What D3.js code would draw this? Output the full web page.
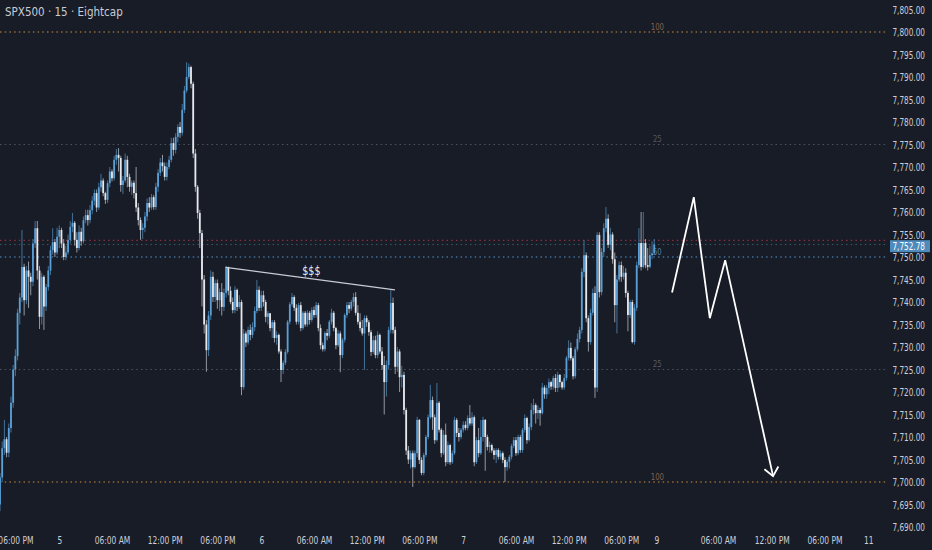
<!DOCTYPE html>
<html>
<head>
<meta charset="utf-8">
<script src="https://cdn.jsdelivr.net/npm/d3@7"></script>
<style>
    html, body { margin: 0; padding: 0; background: #181c27; overflow: hidden; }
    svg { display: block; }
    text { font-family: "DejaVu Sans Condensed", Roboto, sans-serif; }
</style>
</head>
<body>
<div class="canvas"></div>
<script>
// 15 min bars, open of each bar = close of the bar before
const firstOpen = 7695;

const closes = [
    7701, 7707.5, 7709.5, 7706.5, 7712, 7717.6, 7725, 7728, 7737.6, 7741,
    7747.8, 7740.4, 7747, 7745.6, 7744.5, 7753, 7756.4, 7747, 7736.7, 7745.6,
    7739, 7743.3, 7747, 7751.5, 7753.3, 7751, 7754.5, 7756, 7753, 7750,
    7751, 7753.8, 7756.7, 7757.6, 7753.8, 7752, 7755.6, 7753.5, 7758.2, 7759.3,
    7758.2, 7760.4, 7762.5, 7764.2, 7761, 7765.5, 7767, 7764.2, 7762.7, 7766.4,
    7769, 7767.5, 7771.6, 7772.7, 7772, 7766, 7767, 7771.6, 7767.8, 7765.6,
    7766.5, 7764.2, 7761, 7758.2, 7756, 7756.5, 7759, 7762, 7761, 7763.3,
    7761.1, 7765.6, 7768.7, 7771, 7770.2, 7767.8, 7770, 7771.6, 7775.3, 7773.8,
    7776.7, 7778.9, 7777.6, 7782.7, 7787, 7790, 7792.2, 7788.5, 7773, 7765.6,
    7759.8, 7755.3, 7745, 7735, 7729.3, 7737, 7745.6, 7741.1, 7744.2, 7740.4,
    7742.2, 7738.9, 7742, 7747.8, 7742.5, 7740, 7738.2, 7742.7, 7738.9, 7740,
    7721.1, 7733, 7731, 7733.8, 7732.7, 7734.4, 7738, 7742.7, 7738.7, 7741.5,
    7740, 7736.7, 7737.5, 7734.2, 7735.5, 7732, 7732.7, 7729, 7724.9, 7726.5,
    7728.9, 7735.6, 7739.5, 7741.1, 7738.7, 7735.6, 7739.3, 7734.2, 7737.6, 7735,
    7737.6, 7736, 7738.2, 7737.1, 7739.3, 7734.2, 7730.4, 7729.5, 7733.1, 7732.5,
    7735.6, 7737.6, 7734.2, 7730.4, 7733, 7728.2, 7731.6, 7737.1, 7739.3, 7738.5,
    7740, 7741.1, 7737.6, 7735.6, 7734.2, 7733, 7736.4, 7735.5, 7733.3, 7728.9,
    7731.5, 7728.2, 7732.7, 7729, 7726, 7722.2, 7726, 7733.8, 7739.8, 7733.8,
    7725.6, 7729, 7723.3, 7723.8, 7716, 7707, 7705, 7706.4, 7703.3, 7706.4,
    7713.8, 7704.9, 7702, 7706, 7710, 7714.4, 7718.2, 7714.4, 7709.3, 7717.6,
    7711.6, 7706.4, 7710.5, 7704.4, 7708.2, 7704.4, 7706.4, 7713.8, 7710.9, 7710,
    7711.6, 7712.7, 7712, 7714.2, 7713, 7714.4, 7704.4, 7709.3, 7706.4, 7710,
    7713.8, 7710, 7707.8, 7708.2, 7707, 7706, 7707.1, 7705.6, 7706.4, 7704.9,
    7703.3, 7704.5, 7705.6, 7708, 7709.3, 7706.4, 7710, 7707.1, 7711.6, 7714.2,
    7709.3, 7712.2, 7716, 7717.1, 7715.3, 7716, 7715.3, 7721, 7719.5, 7720.9,
    7722.2, 7721.2, 7723.1, 7720.9, 7723.8, 7722.2, 7721, 7723.1, 7727.6, 7729.8,
    7727.5, 7723.5, 7729.5, 7731.8, 7733.8, 7746.7, 7750.4, 7736.4, 7731.1, 7737.6,
    7742, 7721, 7754.9, 7742.2, 7751.1, 7756.4, 7758.5, 7752.7, 7755, 7749.5,
    7739.3, 7745, 7748.2, 7745.6, 7746.5, 7742, 7737.1, 7740, 7731.1, 7738.7,
    7748.2, 7753.1, 7747.8, 7753.1, 7748.2, 7747.8, 7750.4, 7750.8, 7752.78
];

const highs = [
    7702, 7709, 7713.8, 7710, 7713, 7719, 7726, 7729.5, 7738.5, 7742,
    7756, 7748.5, 7748, 7749, 7746.5, 7754, 7758, 7758, 7748, 7746.5,
    7746, 7744, 7748, 7752.5, 7756.4, 7754, 7756.5, 7757, 7756.5, 7754,
    7752.5, 7755, 7758, 7759.8, 7758, 7755.5, 7757, 7756.5, 7759, 7760.5,
    7760.5, 7761.5, 7763.5, 7765, 7765, 7766.5, 7768.5, 7767.5, 7764.5, 7767,
    7770, 7769.5, 7772.5, 7774, 7774.2, 7772.5, 7768, 7773, 7772.5, 7768.5,
    7767, 7767, 7770, 7762, 7758.8, 7757.5, 7760, 7763, 7763.3, 7764,
    7763.8, 7766.5, 7769.5, 7772, 7772.7, 7771, 7771, 7772.5, 7776.5, 7776.5,
    7777.5, 7779.5, 7780, 7784, 7788, 7793.3, 7793, 7792.5, 7789, 7774,
    7766, 7760.5, 7756, 7746, 7736, 7738, 7747, 7746.7, 7745, 7745,
    7743, 7744.2, 7743, 7748, 7747, 7743.5, 7741, 7743.5, 7743, 7741.5,
    7740.5, 7734, 7733.5, 7734.5, 7735, 7735.5, 7739, 7744.9, 7743.5, 7742.5,
    7742.5, 7740.5, 7738, 7737.5, 7736, 7736, 7733.5, 7733, 7729.5, 7727,
    7729.5, 7736, 7740, 7742, 7741.5, 7739.5, 7739.8, 7740, 7738, 7738,
    7738.2, 7738, 7738.8, 7739, 7740, 7739.8, 7735, 7731, 7733.5, 7734,
    7736, 7738.5, 7738, 7734.5, 7733.8, 7733.5, 7732, 7737.5, 7740, 7740,
    7740.5, 7742, 7742.2, 7739.3, 7737.5, 7736, 7737, 7737, 7736, 7733.8,
    7732.5, 7732.5, 7733.5, 7733, 7730, 7728, 7727, 7734.5, 7742.7, 7741,
    7734.5, 7730, 7729.5, 7725.8, 7724.5, 7716.5, 7708, 7707, 7707, 7707,
    7714.5, 7714, 7705.5, 7706.5, 7710.5, 7715, 7721.6, 7719, 7715, 7722,
    7718, 7712, 7711.5, 7713, 7709, 7708.5, 7707, 7714.5, 7714.2, 7712,
    7712, 7713.5, 7713.5, 7714.8, 7717.1, 7715.5, 7714.8, 7710, 7712, 7713.8,
    7714.5, 7714, 7710.5, 7709, 7708.5, 7707.5, 7707.5, 7707.5, 7707, 7706.8,
    7705.5, 7705, 7706, 7708.5, 7710, 7710, 7710.5, 7710.5, 7712, 7715,
    7714.5, 7713, 7717.5, 7718.5, 7717.5, 7717, 7716.5, 7722, 7721.5, 7721.5,
    7723, 7722.5, 7723.6, 7724, 7724.5, 7724, 7722.5, 7724, 7728, 7731.5,
    7731, 7728, 7730, 7733, 7734.5, 7747.5, 7753.8, 7751, 7737, 7738.5,
    7743, 7743.5, 7755.5, 7755.5, 7752, 7757.5, 7761.1, 7759.5, 7756.5, 7755.5,
    7751, 7746, 7749, 7749, 7748, 7747.5, 7742.5, 7740.5, 7740.5, 7739.5,
    7749, 7756.4, 7760, 7760, 7754, 7752, 7752.5, 7753.5, 7754
];

const lows = [
    7693.5, 7700, 7706, 7705.5, 7705.5, 7711, 7716.5, 7723.5, 7727, 7735,
    7740, 7737, 7739.5, 7738.7, 7741.5, 7743.5, 7752, 7745, 7734, 7735,
    7733.8, 7738, 7742.5, 7746, 7750.5, 7750, 7750.5, 7752, 7752, 7749.3,
    7749.3, 7750.5, 7753, 7755.5, 7752.5, 7751, 7751.5, 7752.5, 7753, 7757.5,
    7757, 7757.5, 7759.5, 7761.5, 7760, 7760.5, 7764.5, 7763.5, 7761.8, 7762,
    7765.5, 7766.8, 7767, 7770.5, 7769, 7764.5, 7764, 7766.5, 7765.5, 7764.5,
    7763.8, 7763, 7760, 7757, 7753.8, 7754, 7755.5, 7758, 7760, 7760.5,
    7760.5, 7760.5, 7764.5, 7768, 7769, 7767, 7767, 7769.5, 7771, 7772.5,
    7773, 7775.5, 7776.5, 7777, 7782, 7786.5, 7789.5, 7787.5, 7772, 7764.5,
    7758.5, 7752, 7739, 7733, 7724.5, 7728, 7736, 7740, 7740, 7738.5,
    7738, 7737, 7738, 7741, 7741.5, 7739.5, 7737.5, 7737.5, 7738, 7738.5,
    7719.3, 7720.5, 7730, 7730.5, 7731.5, 7732, 7733.5, 7737.5, 7738, 7738,
    7739, 7735.5, 7735, 7733.5, 7732, 7731, 7730.5, 7728.5, 7722.2, 7724,
    7726, 7728.5, 7735, 7739, 7738, 7735, 7735, 7733.5, 7733.8, 7734.5,
    7734.5, 7735, 7735.5, 7736.5, 7736.5, 7733.5, 7729.5, 7729, 7729, 7731.5,
    7732, 7735, 7733.5, 7729.5, 7730, 7724.4, 7727.5, 7731, 7736.5, 7737.5,
    7738, 7739, 7737, 7735, 7733.5, 7732.5, 7724.9, 7734.5, 7732.5, 7728,
    7728.5, 7727.5, 7727.5, 7728.5, 7725, 7715, 7719, 7725, 7733, 7733,
    7724, 7724.5, 7720, 7721, 7715, 7706, 7704, 7703, 7698.9, 7703,
    7705.5, 7704, 7701.5, 7701.5, 7705.5, 7709.5, 7714, 7711.6, 7708.5, 7709,
    7711, 7705.5, 7706, 7703.5, 7704, 7703.8, 7704, 7706, 7710, 7709,
    7709.5, 7711, 7711.5, 7711.5, 7712.5, 7712.5, 7703.5, 7704, 7705.5, 7706,
    7709, 7702.5, 7707, 7706.5, 7706.5, 7705, 7704.2, 7705, 7705, 7704.2,
    7700, 7702.5, 7703, 7705, 7707.5, 7705.8, 7706, 7706.5, 7706.5, 7711,
    7708.5, 7709, 7711.5, 7715, 7713, 7714, 7712.5, 7715, 7718.5, 7718.5,
    7719.5, 7720.5, 7720.5, 7720, 7720, 7721, 7720.5, 7720.5, 7722.5, 7727,
    7727, 7722.8, 7723, 7729, 7731, 7733, 7745.5, 7735.5, 7729, 7730.5,
    7737, 7718.7, 7720, 7741, 7741.5, 7750, 7755.5, 7752, 7751.5, 7748.5,
    7735.5, 7733, 7744.5, 7744.5, 7745, 7741, 7733.5, 7736.5, 7730.8, 7730.5,
    7738, 7747.5, 7747, 7747.5, 7747.5, 7747, 7747.5, 7749.5, 7750.5
];

// time axis: bar index of each label
const timeTickBars = [7, 27, 51, 75, 99, 119, 143, 167, 191, 211, 235, 259, 283, 299, 327, 351.5, 375.5, 395.5];
const timeTickLabels = ['06:00 PM', '5', '06:00 AM', '12:00 PM', '06:00 PM', '6', '06:00 AM', '12:00 PM', '06:00 PM',
    '7', '06:00 AM', '12:00 PM', '06:00 PM', '9', '06:00 AM', '12:00 PM', '06:00 PM', '11'];

const priceTicks = [7690, 7695, 7700, 7705, 7710, 7715, 7720, 7725, 7730, 7735, 7740, 7745,
    7750, 7755, 7760, 7765, 7770, 7775, 7780, 7785, 7790, 7795, 7800, 7805];

// fib levels
const levelPrices = [7800, 7775, 7750, 7725, 7700];
const levelLabels = ['100', '25', '50', '25', '100'];
const levelLabelBar = 299.4;

const redLinePrice = 7753.7;
const lastPrice = 7752.78;

// liquidity line
const sweepBars = [102.8, 179.9];
const sweepPrices = [7747.7, 7742.7];
const sweepLabel = '$$$';

// projected path
const pathBars = [306.1, 316, 323.3, 330.3, 352.1];
const pathPrices = [7742.1, 7763.3, 7736.4, 7749.3, 7701.3];

const title = 'SPX500 · 15 · Eightcap';

// ---------------------------------------------------------------
const dim = { width: 932, height: 550, plotW: 887, plotH: 532 };

const levelColors = ['#d08e3e', '#4d525e', '#5596cf', '#4d525e', '#d08e3e'];
const levelTextColors = ['#86604a', '#535866', '#4f7fa8', '#535866', '#86604a'];
const upBody = '#5a9fd6', downBody = '#e6e8ec';
const upWick = '#477ca6', downWick = '#a2a6ae';
const axisText = '#cdd0d7';

const svg = d3.select('.canvas').append('svg')
    .attr('width', dim.width)
    .attr('height', dim.height);

svg.append('rect').attr('width', dim.width).attr('height', dim.height).attr('fill', '#181c27');

svg.append('clipPath').attr('id', 'plot')
    .append('rect').attr('width', dim.plotW).attr('height', dim.plotH);

const x = d3.scaleLinear().domain([0, 404]).range([0, dim.plotW]);
const y = d3.scaleLinear().domain([7690, 7800]).range([527, 32]);

const graph = svg.append('g').attr('clip-path', 'url(#plot)');

// build candles
const bars = closes.map((c, i) => {
    const o = i === 0 ? firstOpen : closes[i - 1];
    return {
        i, o, c,
        h: Math.max(highs[i], o, c),
        l: Math.min(lows[i], o, c),
        up: c >= o
    };
});

// horizontal levels
const hline = (price, color) => graph.append('line')
    .attr('x1', 0).attr('x2', dim.plotW)
    .attr('y1', y(price)).attr('y2', y(price))
    .attr('stroke', color)
    .attr('stroke-width', 1.1)
    .attr('stroke-dasharray', '1.5 3.2');

levelPrices.forEach((p, k) => hline(p, levelColors[k]));
hline(redLinePrice, '#8c2f3a');
hline(lastPrice, '#3f5b66');

graph.selectAll('g.lvl')
    .data(levelPrices)
    .enter().append('g')
    .attr('class', 'lvl')
    .attr('transform', d => `translate(${x(levelLabelBar)}, ${y(d) - 2.5}) scale(0.85, 1)`)
    .append('text')
    .attr('text-anchor', 'middle')
    .attr('font-size', 9)
    .attr('fill', (d, k) => levelTextColors[k])
    .text((d, k) => levelLabels[k]);

// wicks
graph.selectAll('line.wick')
    .data(bars)
    .enter().append('line')
    .attr('class', 'wick')
    .attr('x1', d => x(d.i)).attr('x2', d => x(d.i))
    .attr('y1', d => y(d.h)).attr('y2', d => y(d.l))
    .attr('stroke', d => d.up ? upWick : downWick)
    .attr('stroke-width', 0.9);

// bodies
graph.selectAll('rect.body')
    .data(bars)
    .enter().append('rect')
    .attr('class', 'body')
    .attr('x', d => x(d.i) - 0.9)
    .attr('width', 1.8)
    .attr('y', d => y(Math.max(d.o, d.c)))
    .attr('height', d => Math.max(0.8, Math.abs(y(d.o) - y(d.c))))
    .attr('fill', d => d.up ? upBody : downBody);

// $$$ line
graph.append('line')
    .attr('x1', x(sweepBars[0])).attr('y1', y(sweepPrices[0]))
    .attr('x2', x(sweepBars[1])).attr('y2', y(sweepPrices[1]))
    .attr('stroke', '#c9ccd3')
    .attr('stroke-width', 1.2);

graph.append('g')
    .attr('transform', `translate(${x((sweepBars[0] + sweepBars[1]) / 2) + 1}, ${y((sweepPrices[0] + sweepPrices[1]) / 2) - 4}) scale(0.85, 1)`)
    .append('text')
    .attr('text-anchor', 'middle')
    .attr('font-size', 12.5)
    .attr('fill', '#eceef2')
    .text(sweepLabel);

// projected path with open arrow head
const pts = pathBars.map((b, k) => [x(b), y(pathPrices[k])]);
graph.append('path')
    .attr('d', d3.line()(pts))
    .attr('fill', 'none')
    .attr('stroke', '#ffffff')
    .attr('stroke-width', 1.8)
    .attr('stroke-linejoin', 'miter');

const tip = pts[pts.length - 1], prev = pts[pts.length - 2];
const ang = Math.atan2(tip[1] - prev[1], tip[0] - prev[0]);
const head = [ang + Math.PI - 0.68, ang + Math.PI + 0.72].map(a => [tip[0] + 11 * Math.cos(a), tip[1] + 11 * Math.sin(a)]);
graph.append('path')
    .attr('d', d3.line()([head[0], tip, head[1]]))
    .attr('fill', 'none')
    .attr('stroke', '#ffffff')
    .attr('stroke-width', 1.8);

// price axis (labels squeezed to the narrow look of the original font)
const yAxis = d3.axisLeft(y)
    .tickValues(priceTicks)
    .tickSize(0)
    .tickPadding(0)
    .tickFormat(d3.format(',.2f'));

const yAxisGroup = svg.append('g')
    .attr('transform', 'translate(925, 0)')
    .call(yAxis);
yAxisGroup.select('.domain').remove();
yAxisGroup.selectAll('text')
    .attr('font-size', 11)
    .attr('font-family', null)
    .attr('fill', axisText)
    .attr('transform', 'scale(0.74, 1)');

// last price tag
svg.append('rect')
    .attr('x', 890).attr('y', y(lastPrice) - 4.3)
    .attr('width', 40).attr('height', 12)
    .attr('fill', '#4d8bbd');
svg.append('g')
    .attr('transform', `translate(925, ${y(lastPrice) + 1.7}) scale(0.74, 1)`)
    .append('text')
    .attr('dy', '0.34em')
    .attr('text-anchor', 'end')
    .attr('font-size', 11)
    .attr('fill', '#ffffff')
    .text(d3.format(',.2f')(lastPrice));

// time axis
const xAxis = d3.axisBottom(x)
    .tickValues(timeTickBars)
    .tickSize(0)
    .tickPadding(4)
    .tickFormat((d, k) => timeTickLabels[k]);

const xAxisGroup = svg.append('g')
    .attr('transform', `translate(0, ${dim.plotH})`)
    .call(xAxis);
xAxisGroup.select('.domain').remove();
xAxisGroup.selectAll('text')
    .attr('font-size', 11)
    .attr('font-family', null)
    .attr('fill', axisText)
    .attr('transform', 'scale(0.76, 1)');

// title
svg.append('text')
    .attr('x', 5).attr('y', 16)
    .attr('font-size', 11.5)
    .attr('fill', '#c9ccd3')
    .text(title);
</script>
</body>
</html>
